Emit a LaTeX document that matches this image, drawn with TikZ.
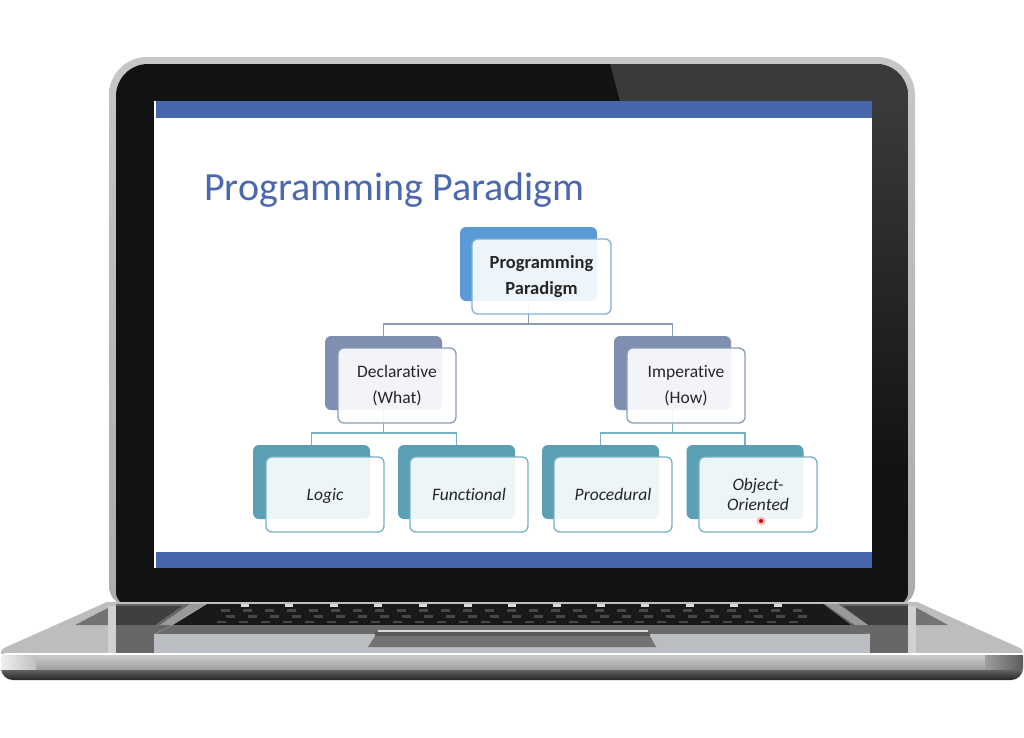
\documentclass[tikz,border=0pt]{standalone}
\usepackage{fontspec}
\setmainfont{Carlito}[Ligatures=NoCommon]
\usetikzlibrary{positioning,calc}
\definecolor{slideblue}{HTML}{4667AE}
\definecolor{titleblue}{HTML}{4A68B0}
\definecolor{rootfill}{HTML}{5B9BD5}
\definecolor{rootline}{HTML}{7FB0DE}
\definecolor{midfill}{HTML}{7F8FB0}
\definecolor{midline}{HTML}{8A9DB5}
\definecolor{leaffill}{HTML}{5A9FB4}
\definecolor{leafline}{HTML}{78B1C4}
\definecolor{lidblack}{HTML}{121212}
\definecolor{glare}{HTML}{3A3A3A}
\definecolor{silver}{HTML}{ABABAB}
\definecolor{deck}{HTML}{BDBDBD}
\definecolor{palm}{HTML}{BABDC1}
\tikzset{
	back/.style = {rounded corners=6pt, minimum height=74pt, minimum width=117pt, inner sep=0pt},
	front/.style = {draw, line width=1.3pt, rounded corners=6pt, fill=white, fill opacity=.9, text opacity=1, minimum height=75pt, minimum width=118pt, inner sep=0pt, align=center, text=black!85, font=\fontsize{17.5}{26}\selectfont},
	leaftext/.style = {font=\fontsize{17.5}{20}\selectfont\itshape},
	oneline/.style = {leaftext, text height=15pt, text depth=3pt},
	rootlink/.style = {draw=midline, line width=1.2pt},
	leaflink/.style = {draw=leafline, line width=1.2pt},
	key/.style = {fill=black!72, minimum width=9pt, minimum height=2.5pt, inner sep=0pt}
}

\begin{document}
\begin{tikzpicture}[x=1pt,y=-1pt]
	\useasboundingbox (0,0) rectangle (1024,737);
	\fill[white] (0,0) rectangle (1024,737);
	% lid
	\shade[top color=black!22, bottom color=silver] (109,300) [rounded corners=38pt] -- (109,57) -- (915,57) -- (915,300) [rounded corners=20pt] -- (915,606) -- (109,606) -- cycle;
	\begin{scope}
		\clip (116,300) [rounded corners=32pt] -- (116,64) -- (908,64) -- (908,300) [rounded corners=14pt] -- (908,606) -- (116,606) -- cycle;
		\fill[lidblack] (116,64) rectangle (908,606);
		\fill[glare] (610,64) -- (620,101) -- (908,101) -- (908,64) -- cycle;
		\shade[top color=glare, bottom color=lidblack] (872,101) rectangle (908,470);
	\end{scope}
	% base
	\fill[deck] (107,602) -- (917,602) -- (1020,648) .. controls (1023,650) and (1023,652) .. (1023,654) -- (1,654) .. controls (1,651) and (1,650) .. (4,648) -- cycle;
	\fill[black!55] (75,625) -- (112,606) -- (182,606) -- (155,625) -- cycle;
	\fill[black!55] (843,606) -- (913,606) -- (948,625) -- (868,625) -- cycle;
	\fill[black, opacity=.45] (116,604) -- (205,604) -- (170,626) -- (154,634) -- (154,653) -- (116,653) -- cycle;
	\fill[black, opacity=.45] (820,604) -- (908,604) -- (908,653) -- (870,653) -- (870,634) -- (850,626) -- cycle;
	\fill[black!18] (108,606) rectangle (116,653);
	\fill[black!18] (908,606) rectangle (916,653);
	\fill[black!40] (160,625) -- (190,604) -- (205,604) -- (172,625) -- cycle;
	\fill[black!40] (825,604) -- (838,604) -- (868,625) -- (855,625) -- cycle;
	\fill[black!25] (107,602) rectangle (917,603.5);
	\fill[black!90] (207,604) -- (823,604) -- (851,625) -- (173,625) -- cycle;
	\foreach \kx in {245,289,334,378,423,468,512,557,601,645,690,734,778} {
		\node[key, fill=black!15, minimum width=8pt] (f\kx) at (\kx,605.5) {};
	}
	\foreach \kx in {225,247,269,291,313,335,357,379,401,423,445,467,489,511,533,555,577,599,621,643,665,687,709,731,753,775,797} {
		\node[key] (a\kx) at (\kx,610.5) {};
		\node[key] (b\kx) at (\kx+5,616.5) {};
		\node[key] (c\kx) at (\kx-4,622) {};
	}
	\fill[black!58] (173,625) -- (851,625) -- (869,634) -- (155,634) -- cycle;
	\fill[palm] (154,634) rectangle (870,653);
	\fill[black!65] (375,632) rectangle (650,636);
	\fill[black!15] (378,630) rectangle (648,632);
	\fill[black!55] (375,636) -- (650,636) -- (656,647) -- (368,647) -- cycle;
	\begin{scope}
		\clip (1,650) -- (1023,650) [rounded corners=12pt] -- (1023,680) -- (1,680) -- cycle;
		\shade[top color=black!18, bottom color=black!38] (0,653) rectangle (1024,670);
		\shade[top color=black!62, bottom color=black!88] (0,670) rectangle (1024,681);
		\shade[left color=black!5, right color=black!25] (0,654) rectangle (36,669);
		\shade[left color=black!38, right color=black!65] (985,654) rectangle (1024,669);
		\fill[white] (0,652.5) rectangle (1024,654.5);
	\end{scope}
	% screen
	\fill[white] (154,101) rectangle (872,568);
	\fill[slideblue] (156,101) rectangle (872,118);
	\fill[slideblue] (156,552) rectangle (872,568);
	\node[anchor=west, text=titleblue, font=\fontsize{40}{40}\selectfont, inner sep=0pt] (title) at (204,190.5) {Programming Paradigm};
	% chart
	\node[back, fill=rootfill, minimum width=137pt] (root) at (528.5,264) {};
	\node[back, fill=midfill] (decl) at (383.5,373) {};
	\node[back, fill=midfill] (imp) at (672.5,373) {};
	\node[back, fill=leaffill] (logic) at (311.5,482) {};
	\node[back, fill=leaffill] (func) at (456.5,482) {};
	\node[back, fill=leaffill] (proc) at (600.5,482) {};
	\node[back, fill=leaffill] (oop) at (745,482) {};
	\coordinate (bus) at (528.5,324);
	\coordinate (busdecl) at (383.5,433);
	\coordinate (busimp) at (672.5,433);
	\draw[rootlink] (root.south) -- (bus) -| (decl.north);
	\draw[rootlink] (bus) -| (imp.north);
	\draw[leaflink] (decl.south) -- (busdecl) -| (logic.north);
	\draw[leaflink] (busdecl) -| (func.north);
	\draw[leaflink] (imp.south) -- (busimp) -| (proc.north);
	\draw[leaflink] (busimp) -| (oop.north);
	\node[front, draw=rootline, minimum width=139pt, font=\fontsize{18.5}{26}\selectfont] (rootbox) at (541.5,276.5) {\textbf{Programming}\\\textbf{Paradigm}};
	\node[front, draw=midline] (declbox) at (397,385.5) {Declarative\\(What)};
	\node[front, draw=midline] (impbox) at (686,385.5) {Imperative\\(How)};
	\node[front, oneline, draw=leafline] (logicbox) at (325,494.5) {Logic};
	\node[front, oneline, draw=leafline] (funcbox) at (469,494.5) {Functional};
	\node[front, oneline, draw=leafline] (procbox) at (613,494.5) {Procedural};
	\node[front, leaftext, draw=leafline] (oopbox) at (758,494.5) {Object-\\Oriented};
	\node[circle, fill=red!25, minimum size=9pt, inner sep=0pt] (halo) at (761,521) {};
	\node[circle, fill=red!85!black, minimum size=4pt, inner sep=0pt] (pointer) at (halo) {};
\end{tikzpicture}
\end{document}
